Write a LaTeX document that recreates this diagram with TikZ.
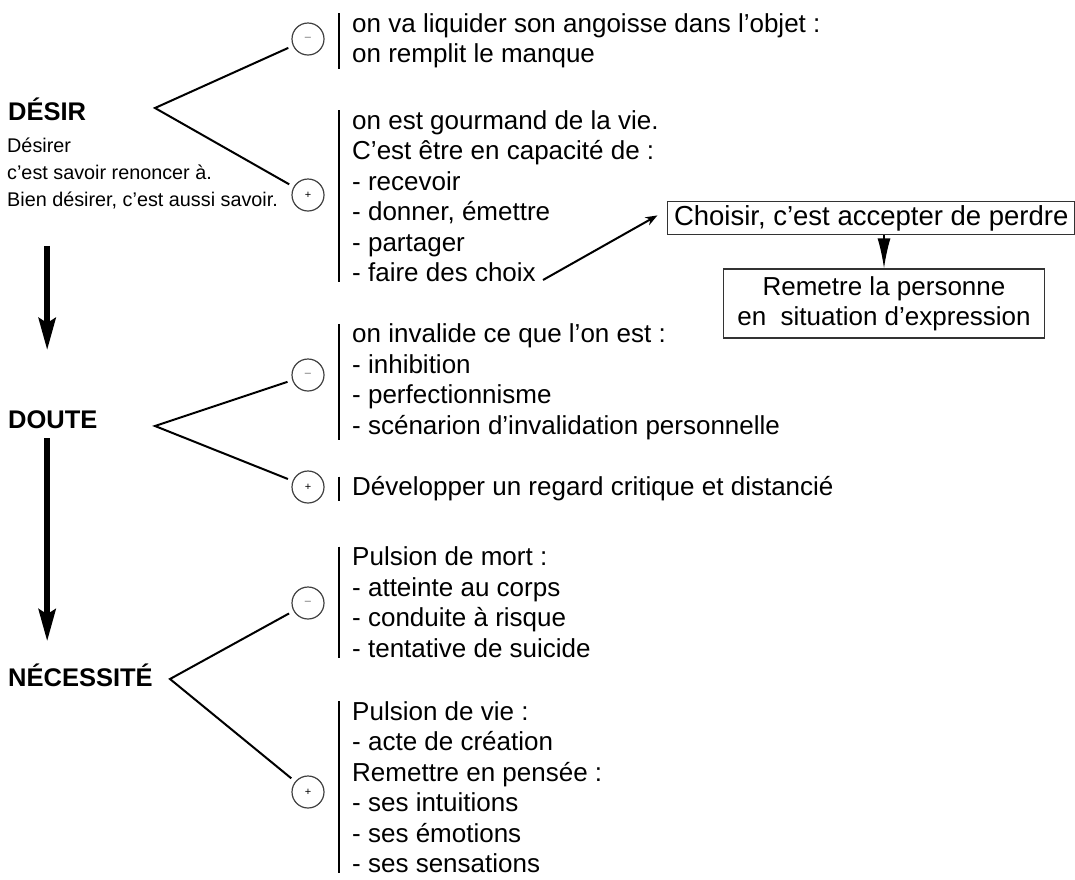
\documentclass[tikz,border=0pt]{standalone}
\usepackage{fontspec}
\setmainfont{Liberation Sans}
\usetikzlibrary{arrows.meta,positioning}

\begin{document}
\begin{tikzpicture}[x=1pt, y=-1pt, >=Stealth,
		heading/.style={anchor=base west, inner sep=0pt,
			font=\fontsize{25.5}{30}\selectfont\bfseries},
		block/.style={anchor=west, align=left, inner xsep=13pt, inner ysep=0pt,
			font=\fontsize{26}{30.5}\selectfont},
		sign/.style={circle, draw=black!75, line width=1.2pt, minimum size=32pt,
			inner sep=0pt, font=\fontsize{11}{11}\selectfont},
		frame/.style={draw=black!80, line width=1.4pt, align=center,
			font=\fontsize{26}{30}\selectfont},
		branch/.style={line width=2pt, shorten <=5pt, shorten >=5pt},
		bar/.style={line width=2.2pt},
		flow/.style={line width=5.5pt, -{Stealth[length=32pt,width=17pt,inset=5pt]}}]

		\useasboundingbox (0,0) rectangle (1075,879);

		% Desir
		\node [heading] (desir) at (8,120) {DÉSIR};
		\node [anchor=west, align=left, inner sep=0pt,
			font=\fontsize{19.8}{27}\selectfont] (desir-txt) at (7,173) {
			Désirer\\
			c’est savoir renoncer à.\\
			Bien désirer, c’est aussi savoir.
		};
		\coordinate (desir-v) at (155,108);
		\node [sign] (desir-m) at (308,39) {{\color{black!60}–}};
		\node [sign] (desir-p) at (308,195) {+};
		\node [block] (desir-m-txt) at (339,41) {
			on va liquider son angoisse dans l’objet :\\
			on remplit le manque
		};
		\node [block] (desir-p-txt) at (339,196) {
			on est gourmand de la vie.\\
			C’est être en capacité de :\\
			- recevoir\\
			- donner, émettre\\
			- partager\\
			- faire des choix
		};
		\coordinate (choix) at (543,280);

		% Choix
		\node [frame, anchor=west, minimum width=407pt, minimum height=33pt,
			font=\fontsize{27.5}{30}\selectfont]
			(choisir) at (667,218) {Choisir, c’est accepter de perdre};
		\node [frame, minimum width=321pt, minimum height=69pt, inner ysep=2pt]
			(remettre) at (884,303.5) {
			Remetre la personne\\
			en~ situation d’expression
		};

		% Doute
		\node [heading] (doute) at (8,428) {DOUTE};
		\coordinate (doute-v) at (155,426);
		\node [sign] (doute-m) at (308,375) {{\color{black!60}–}};
		\node [sign] (doute-p) at (308,487) {+};
		\node [block] (doute-m-txt) at (339,382) {
			on invalide ce que l’on est :\\
			- inhibition\\
			- perfectionnisme\\
			- scénarion d’invalidation personnelle
		};
		\node [block] (doute-p-txt) at (339,489) {
			Développer un regard critique et distancié
		};

		% Necessite
		\node [heading] (nec) at (8,686) {NÉCESSITÉ};
		\coordinate (nec-v) at (170,679);
		\node [sign] (nec-m) at (308,603) {{\color{black!60}–}};
		\node [sign] (nec-p) at (308,792) {+};
		\node [block] (nec-m-txt) at (339,602) {
			Pulsion de mort :\\
			- atteinte au corps\\
			- conduite à risque\\
			- tentative de suicide
		};
		\node [block] (nec-p-txt) at (339,787) {
			Pulsion de vie :\\
			- acte de création\\
			Remettre en pensée :\\
			- ses intuitions\\
			- ses émotions\\
			- ses sensations
		};

		% Branches and bars
		\foreach \s in {desir, doute, nec}
			\draw [branch] (\s-m) -- (\s-v) -- (\s-p);
		\foreach \s in {desir, doute, nec}
			\foreach \t in {m, p}
				\draw [bar] (\s-\t-txt.north west) -- (\s-\t-txt.south west);

		% Flow arrows
		\draw [flow, shorten <=37pt, shorten >=60pt]
			(desir-txt.south -| desir.south) -- (doute.north -| desir.south);
		\draw [flow, shorten <=10pt, shorten >=22pt]
			(doute.south -| desir.south) -- (nec.north -| desir.south);

		\draw [->, line width=2pt, shorten >=11pt] (choix) --
			([yshift=8pt]choisir.west);
		\draw [-{Latex[length=30pt,width=13pt]}, line width=1.5pt]
			(choisir.south -| remettre.north) -- (remettre.north);

	\end{tikzpicture}
\end{document}
